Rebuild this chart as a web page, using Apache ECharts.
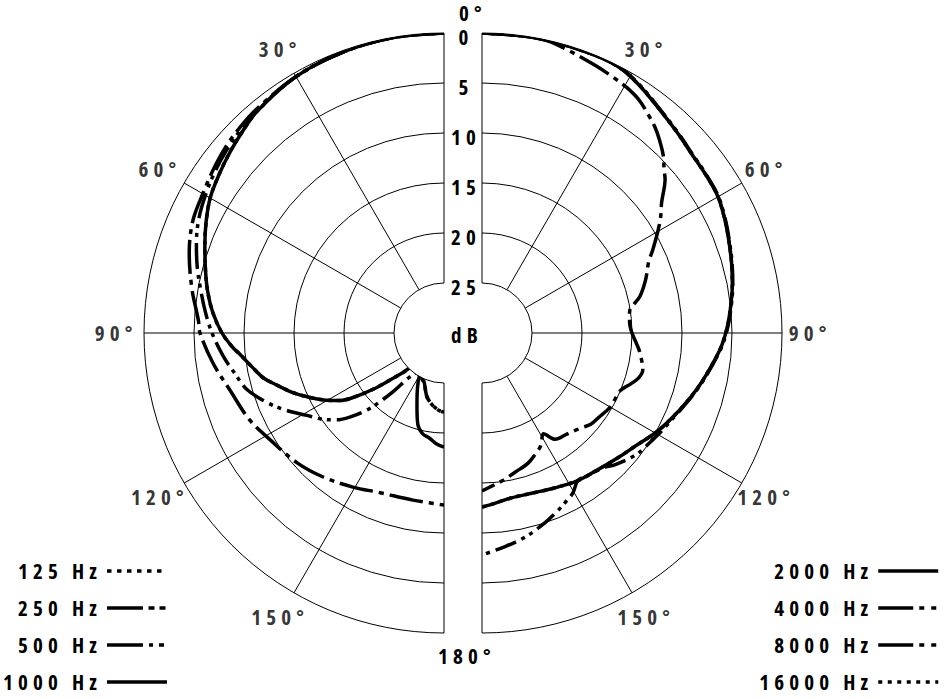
<!DOCTYPE html>
<html><head><meta charset="utf-8">
<script src="https://cdn.jsdelivr.net/npm/echarts@6/dist/echarts.min.js"></script>
<style>
html,body{margin:0;padding:0;background:#fff;}
#c{width:949px;height:699px;}
</style>
<style id="ls"></style>
</head><body><div id="c"></div>
<script>
// ---------- data (angle in degrees, level in dB below 0) ----------
const angleTicks = [30, 60, 90, 120, 150];
const dbTicks = [0, 5, 10, 15, 20, 25];

const leftNames = ['125 Hz', '250 Hz', '500 Hz', '1000 Hz'];
const rightNames = ['2000 Hz', '4000 Hz', '8000 Hz', '16000 Hz'];

const f125 = [[0,0],[10,0.02],[20,0.15],[30,0.4],[40,1.0],[45,1.5],[50,2.0],[55,2.5],[60,3.0],[65,3.75],[70,4.55],[75,5.3],[80,6.0],[85,6.8],[90,7.8],[94,8.85],[96,9.5],[100,10.5],[104,11.4],[107,12.4],[111,13.6],[115,14.9],[119,16.2],[123,17.6],[126,19.3],[128.5,21.0],[131,22.8],[134,24.3],[137,25.3],[143,25.5],[148,25.4],[152,25.1],[156,24.8],[159,24.6],[162,24.0],[165,23.4],[169,22.9],[173,22.5],[177,22.2],[180,22.1]];
const f250 = [[0,0],[10,0.02],[20,0.15],[30,0.4],[40,0.9],[45,1.25],[50,1.6],[55,2.0],[60,2.45],[65,2.95],[70,3.65],[75,4.45],[80,5.3],[85,6.05],[90,6.8],[96,7.8],[101,8.7],[106,9.5],[111.5,11.0],[116,12.4],[121,14.0],[125,15.0],[129,16.2],[132,17.5],[135,19.1],[137,20.6],[139,22.2],[142,24.4],[146,25.2],[150,25.3],[154,25.0],[158,24.7],[162,24.0],[165,23.4],[169,22.9],[173,22.5],[177,22.2],[180,22.1]];
const f500 = [[0,0],[10,0.02],[20,0.15],[30,0.4],[40,0.8],[45,1.05],[50,1.35],[55,1.75],[60,2.15],[66,2.5],[72.6,3.3],[80,4.4],[87,5.4],[90,5.6],[97.4,6.7],[105,7.85],[114,8.7],[121.6,9.6],[131.5,10.4],[140,11.2],[149.4,12.1],[158.2,12.8],[169.5,13.0],[180,12.8]];
const f1000 = [[0,0],[10,0.02],[20,0.15],[30,0.4],[40,1.0],[45,1.5],[50,2.0],[55,2.5],[60,3.0],[65,3.75],[70,4.55],[75,5.3],[80,6.0],[85,6.8],[90,7.8],[94,8.85],[96,9.5],[100,10.5],[104,11.4],[107,12.4],[111,13.6],[115,14.9],[119,16.2],[123,17.6],[126,19.3],[128.5,21.0],[131,22.8],[134,24.3],[137,25.3],[143,25.5],[149,25.3],[152,24.5],[156,23.4],[160,22.1],[164,20.5],[168,19.7],[172,19.4],[176,18.9],[180,18.6]];

const f2000 = [[0,0],[10,0],[20,0.03],[27,0.08],[32,0.6],[38,1.4],[44,2.0],[50,2.45],[55,2.6],[60,2.75],[65,3.2],[69,3.6],[74,4.05],[79,4.5],[83,4.9],[88,5.4],[93,6.0],[98,6.8],[104,7.7],[110,8.6],[116,9.45],[120,10.0],[126,10.9],[132,11.5],[140,12.1],[147,12.4],[155,12.9],[162,13.2],[170,13.25],[176,12.9],[180,12.6]];
const f4000 = [[0,0],[10,0],[20,0.03],[27,0.05],[32,0.55],[38,1.35],[44,1.95],[50,2.4],[55,2.55],[60,2.7],[65,3.15],[69,3.55],[74,4.0],[79,4.45],[83,4.85],[88,5.35],[93,5.95],[98,6.75],[104,7.65],[110,8.55],[116,9.3],[119.3,9.6],[125,10.1],[128.6,10.4],[134.8,11.3],[137.5,11.8],[143.3,12.25],[147,12.4],[150.4,11.6],[154,11.1],[157.5,10.6],[161.7,10.0],[168,9.15],[174,8.5],[180,7.8]];
const f8000 = [[0,0],[8,0],[12.5,0.05],[17,0.45],[23,0.95],[27,1.25],[30.5,1.5],[34,1.9],[37,2.5],[40,3.1],[42.5,3.75],[45.5,4.6],[48,5.5],[50,6.1],[54,7.8],[57,8.7],[60,9.7],[64,11.0],[67,11.9],[72,12.8],[77,13.8],[82,15.1],[86,15.2],[90,15.0],[94,14.5],[97,14.1],[103,13.5],[106,13.7],[109,14.3],[112.5,15.0],[120,15.2],[126,15.6],[130,15.8],[134,16.3],[140,16.8],[145.5,17.1],[148.6,18.2],[151,17.7],[153,17.2],[156,16.8],[160.5,16.2],[166.5,15.7],[172,15.1],[176,14.7],[180,14.2]];
const f16000 = [[0,0],[10,0],[20,0.03],[27,0.08],[32,0.6],[38,1.4],[44,2.0],[50,2.45],[55,2.6],[60,2.75],[65,3.2],[69,3.6],[74,4.05],[79,4.5],[83,4.9],[88,5.4],[93,6.0],[98,6.8],[104,7.7],[110,8.6],[116,9.45],[120,10.0],[126,10.9],[132,11.5],[140,12.1],[147,12.4],[155,12.9],[162,13.2],[170,13.25],[176,12.9],[180,12.6]];

// ---------- styling ----------
const FONT = "'Open Sans', 'DejaVu Sans', sans-serif";
const FS = 21;
const mctx = document.createElement('canvas').getContext('2d');
mctx.font = 'bold ' + FS + 'px ' + FONT;
const leftTextW = Math.max.apply(null, leftNames.map(n => mctx.measureText(n).width)); // as laid out by the library
mctx.fontStretch = 'condensed';
const digitAdv = mctx.measureText('0000000000').width / 10;
const LS = Math.max(0, 15 - digitAdv);
document.getElementById('ls').textContent =
  '#c text{font-stretch:condensed !important;letter-spacing:' + LS.toFixed(2) + 'px !important;}';

const txt = {color: '#000', fontSize: FS, fontWeight: 'bold', fontFamily: FONT};
const thin = {color: '#000', width: 1};

const DOT = [4, 5];
const plotStyle = {
  '125 Hz': DOT, '250 Hz': [26, 6, 4, 5, 4, 6], '500 Hz': [34, 6, 5, 6], '1000 Hz': 'solid',
  '2000 Hz': 'solid', '4000 Hz': [22, 6, 4, 5, 4, 6], '8000 Hz': [34, 6, 5, 6], '16000 Hz': DOT
};
const legendStyle = {
  '125 Hz': [4.5, 5.5], '250 Hz': [36, 5.5, 6, 5, 6, 5.5], '500 Hz': [36, 6, 4, 6, 5, 6], '1000 Hz': 'solid',
  '2000 Hz': 'solid', '4000 Hz': [35, 6, 5, 7, 5, 6], '8000 Hz': [35, 6, 5, 7, 5, 6], '16000 Hz': [4, 5.5]
};

function curve(name, pts, polarIndex, z) {
  return {
    type: 'line', name: name, coordinateSystem: 'polar', polarIndex: polarIndex,
    data: pts.map(p => [p[1], p[0]]), smooth: 0.35, symbol: 'none', clip: false,
    silent: true, animation: false, z: z,
    lineStyle: {color: '#000', width: 3.5, type: plotStyle[name], cap: 'butt', join: 'round'},
    itemStyle: {color: '#000'}
  };
}
function angleLabels(polarIndex) {
  return {
    type: 'scatter', coordinateSystem: 'polar', polarIndex: polarIndex, silent: true, clip: false,
    symbol: 'circle', symbolSize: 0.1, itemStyle: {color: 'rgba(0,0,0,0)'}, z: 10,
    data: angleTicks.map(a => [-2.8, a]),
    label: Object.assign({show: true, position: 'inside', formatter: p => p.value[1] + '°'}, txt)
  };
}
function radAxis(polarIndex, showLabels) {
  return {
    polarIndex: polarIndex, type: 'value', min: 0, max: 25, interval: 5, inverse: true,
    axisLine: {show: false}, axisTick: {show: false},
    axisLabel: Object.assign({show: showLabels, margin: 16, align: 'center', verticalAlign: 'top',
      lineHeight: 8, showMinLabel: true, showMaxLabel: true}, txt),
    splitLine: {show: true, lineStyle: thin}
  };
}
function angAxis(polarIndex, endAngle, clockwise) {
  return {
    polarIndex: polarIndex, type: 'value', min: 0, max: 180, interval: 30,
    startAngle: 90, endAngle: endAngle, clockwise: clockwise,
    axisLine: {show: false}, axisTick: {show: false}, axisLabel: {show: false},
    splitLine: {show: true, lineStyle: thin}
  };
}
function legend(names, pos) {
  return Object.assign({
    orient: 'vertical', top: 560.5, align: 'right', padding: 0,
    itemWidth: 60, itemHeight: 21, itemGap: 16, selectedMode: false,
    textStyle: Object.assign({lineHeight: 21}, txt),
    itemStyle: {opacity: 0, color: 'rgba(0,0,0,0)', borderWidth: 0},
    lineStyle: {width: 3.5, cap: 'butt', color: '#000'},
    data: names.map(n => ({name: n, itemStyle: {opacity: 0}, lineStyle: {type: legendStyle[n], width: 3.5, cap: 'butt', color: '#000'}}))
  }, pos);
}
function label(text, x, y) {
  return {type: 'text', z: 20, style: {text: text, x: x, y: y, fill: '#000', fontSize: FS, fontWeight: 'bold',
    fontFamily: FONT, lineHeight: 16, align: 'center', verticalAlign: 'middle'}};
}

const chart = echarts.init(document.getElementById('c'), null, {renderer: 'svg'});
chart.setOption({
  animation: false,
  backgroundColor: '#fff',
  polar: [
    {center: [444, 333], radius: [50, 300]},
    {center: [482, 333], radius: [50, 300]}
  ],
  angleAxis: [angAxis(0, 270, false), angAxis(1, -90, true)],
  radiusAxis: [radAxis(0, false), radAxis(1, true)],
  legend: [
    legend(leftNames, {left: 102 - leftTextW}),
    legend(rightNames, {right: 9})
  ],
  graphic: [
    label('0°', 473, 13),
    label('180°', 467, 656),
    label('dB', 467, 335)
  ],
  series: [
    curve('125 Hz', f125, 0, 2),
    curve('250 Hz', f250, 0, 3),
    curve('500 Hz', f500, 0, 3),
    curve('1000 Hz', f1000, 0, 4),
    curve('16000 Hz', f16000, 1, 2),
    curve('8000 Hz', f8000, 1, 3),
    curve('4000 Hz', f4000, 1, 3),
    curve('2000 Hz', f2000, 1, 4),
    angleLabels(0),
    angleLabels(1)
  ]
});
</script>
</body></html>
